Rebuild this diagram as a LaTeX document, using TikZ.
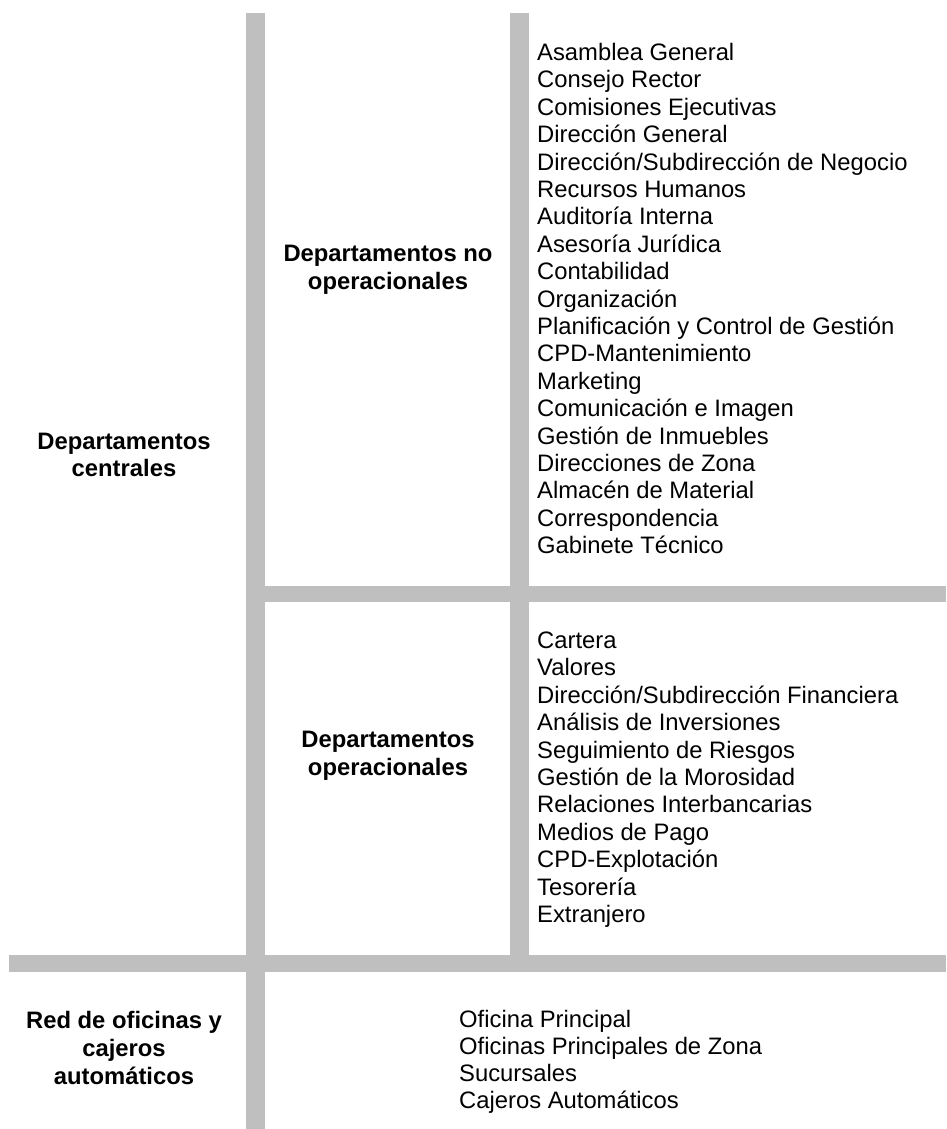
\documentclass[tikz,border=0pt]{standalone}
\usepackage{fontspec}
\setmainfont{Liberation Sans}
\begin{document}
\begin{tikzpicture}[x=1pt,y=-1pt,
  bar/.style={fill=barGray,draw=none},
  item/.style={anchor=base west,inner sep=0pt,font=\fontsize{23.8}{27.4}\selectfont},
  head/.style={align=center,inner sep=0pt,font=\fontsize{23.8}{27.8}\selectfont\bfseries}]
\definecolor{barGray}{HTML}{BFBFBF}
\useasboundingbox (0,0) rectangle (946,1129);
% grey separator bars
\fill[bar] (246,13) rectangle (265,1129);
\fill[bar] (510,13) rectangle (529,955);
\fill[bar] (265,586) rectangle (946,602);
\fill[bar] (9,955) rectangle (946,972);
% group headings
\node[head] (central) at (124,455) {Departamentos\\centrales};
\node[head] (noop) at (388,270) {Departamentos no\\operacionales};
\node[head] (oper) at (388,756) {Departamentos\\operacionales};
\node[head] (red) at (124,1048) {Red de oficinas y\\cajeros\\automáticos};
% non-operational departments
\foreach \t [count=\i from 0] in {Asamblea General,Consejo Rector,Comisiones Ejecutivas,Dirección General,Dirección/Subdirección de Negocio,Recursos Humanos,Auditoría Interna,Asesoría Jurídica,Contabilidad,Organización,Planificación y Control de Gestión,CPD-Mantenimiento,Marketing,Comunicación e Imagen,Gestión de Inmuebles,Direcciones de Zona,Almacén de Material,Correspondencia,Gabinete Técnico}
  \node[item] (na\i) at (537,60.5+27.4*\i) {\t};
% operational departments
\foreach \t [count=\i from 0] in {Cartera,Valores,Dirección/Subdirección Financiera,Análisis de Inversiones,Seguimiento de Riesgos,Gestión de la Morosidad,Relaciones Interbancarias,Medios de Pago,CPD-Explotación,Tesorería,Extranjero}
  \node[item] (op\i) at (537,648.5+27.4*\i) {\t};
% branch network
\foreach \t [count=\i from 0] in {Oficina Principal,Oficinas Principales de Zona,Sucursales,Cajeros Automáticos}
  \node[item] (of\i) at (459,1027.5+27*\i) {\t};
\end{tikzpicture}
\end{document}
